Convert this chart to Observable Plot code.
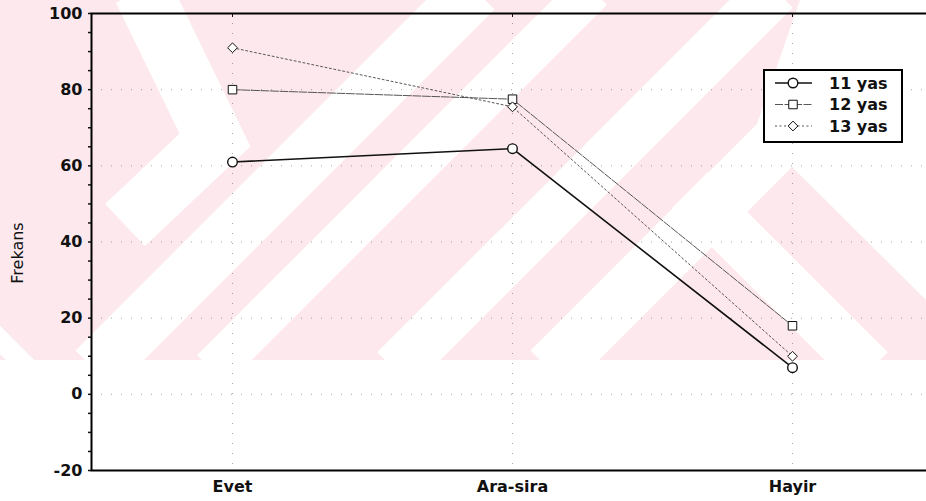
<!DOCTYPE html>
<html><head><meta charset="utf-8">
<script src="https://cdn.jsdelivr.net/npm/d3@7"></script>
<script src="https://cdn.jsdelivr.net/npm/@observablehq/plot@0.6"></script>
<style>
body{margin:0;background:#fff;}
#wrap{position:relative;width:926px;height:501px;overflow:hidden;}
#bg,#chart,#legend{position:absolute;left:0;top:0;}
#chart svg{background:transparent;}
#legend{left:763px;top:69px;width:136px;height:70px;border:2px solid #000;background:#fff;}
</style></head>
<body>
<div id="wrap"><svg id="bg" width="926" height="501"></svg><div id="chart"></div><div id="legend"></div></div>
<script>
// ---- data ----
const categories = ["Evet", "Ara-sira", "Hayir"];
const series = ["11 yas", "12 yas", "13 yas"];
const yas11 = [61, 64.5, 7];
const yas12 = [80, 77.5, 18];
const yas13 = [91, 75.5, 10];
const yTicks = [-20, 0, 20, 40, 60, 80, 100];
const minorTicks = d3.range(-20, 101, 5);
const yLabel = "Frekans";

const values = [yas11, yas12, yas13];
const rows = series.flatMap((s, i) => categories.map((c, j) => ({series: s, cat: c, value: values[i][j]})));

const styles = {
  "11 yas": {stroke: "#111", strokeWidth: 1.6, dash: null, symbol: "circle", r: 4.8, sw: 1.4},
  "12 yas": {stroke: "#444", strokeWidth: 0.9, dash: "8,1.5", symbol: "square", r: 4.8, sw: 1},
  "13 yas": {stroke: "#444", strokeWidth: 0.9, dash: "2,2.5", symbol: "diamond2", r: 4.4, sw: 1}
};

// ---- decorative watermark background (scan artefact) ----
(function(){
  const bg = d3.select("#bg");
  bg.append("defs").append("clipPath").attr("id", "wm").append("rect").attr("width", 926).attr("height", 360);
  bg.append("rect").attr("width", 926).attr("height", 360).attr("fill", "#fde9ed");
  const g = bg.append("g").attr("clip-path", "url(#wm)").attr("fill", "none").attr("stroke", "#fff");
  const paths = [
    {pts: "142,-10 215,140 125,225", w: 58},
    {pts: "95,370 475,-10", w: 55},
    {pts: "212,370 592,-10", w: 42},
    {pts: "395,370 775,-10", w: 50},
    {pts: "550,370 930,-10", w: 55},
    {pts: "690,190 870,370", w: 50},
    {pts: "-10,330 30,370", w: 20}
  ];
  for (const p of paths) g.append("polyline").attr("points", p.pts).attr("stroke-width", p.w);
  g.append("polygon").attr("points", "800,0 926,0 926,300 755,130").attr("fill", "#fff").attr("stroke", "none");
})();

// ---- chart ----
const font = "DejaVu Sans";
const marks = [
  Plot.gridY(yTicks, {stroke: "#000", strokeOpacity: 0.35, strokeDasharray: "1,9"}),
  Plot.gridX({stroke: "#000", strokeOpacity: 0.35, strokeDasharray: "1,9"}),
];
for (const s of series) {
  const st = styles[s];
  const data = rows.filter(d => d.series === s);
  marks.push(Plot.line(data, {x: "cat", y: "value", stroke: st.stroke, strokeWidth: st.strokeWidth, strokeDasharray: st.dash}));
}
for (const s of series) {
  const st = styles[s];
  const data = rows.filter(d => d.series === s);
  marks.push(Plot.dot(data, {x: "cat", y: "value", symbol: () => st.symbol, r: st.r, fill: "#fff", stroke: "#111", strokeWidth: st.sw}));
}
marks.push(
  Plot.axisY(yTicks, {tickSize: 0, tickPadding: 9, fontSize: 16, fontWeight: "bold", label: null, tickFormat: d => String(d)}),
  Plot.axisY(minorTicks, {tickSize: 3, tickFormat: () => "", label: null, strokeWidth: 1.5}),
  Plot.axisX({tickSize: 0, tickPadding: 10, fontSize: 16, fontWeight: "bold", label: null}),
  Plot.axisX({anchor: "top", tickSize: -3, tickFormat: () => "", label: null}),
  Plot.text([yLabel], {frameAnchor: "left", dx: -74, dy: 11, rotate: -90, textAnchor: "middle", fontSize: 16, fill: "#111"}),
  Plot.frame({stroke: "#000", strokeWidth: 2})
);

const chart = Plot.plot({
  width: 926, height: 501,
  marginLeft: 91, marginRight: -7, marginTop: 13, marginBottom: 31,
  style: {fontFamily: font, background: "transparent", color: "#111"},
  x: {domain: categories, padding: 0.5, type: "point"},
  y: {domain: [-20, 100]},
  marks
});
document.getElementById("chart").appendChild(chart);

// ---- legend ----
(function(){
  const svg = d3.select("#legend").append("svg").attr("width", 136).attr("height", 70);
  series.forEach((s, i) => {
    const st = styles[s];
    const y = 12 + i * 21.5;
    svg.append("line").attr("x1", 10).attr("x2", 47).attr("y1", y).attr("y2", y)
      .attr("stroke", st.stroke).attr("stroke-width", st.strokeWidth).attr("stroke-dasharray", st.dash);
    const sym = st.symbol === "circle" ? d3.symbolCircle : st.symbol === "square" ? d3.symbolSquare : d3.symbolDiamond2;
    svg.append("path").attr("d", d3.symbol(sym, Math.PI * st.r * st.r)())
      .attr("transform", `translate(28,${y})`).attr("fill", "#fff").attr("stroke", "#111").attr("stroke-width", st.sw);
    svg.append("text").attr("x", 64).attr("y", y).attr("dy", "0.36em")
      .attr("font-family", font).attr("font-weight", "bold").attr("font-size", 16).attr("fill", "#111").text(s);
  });
})();
</script>
</body></html>
